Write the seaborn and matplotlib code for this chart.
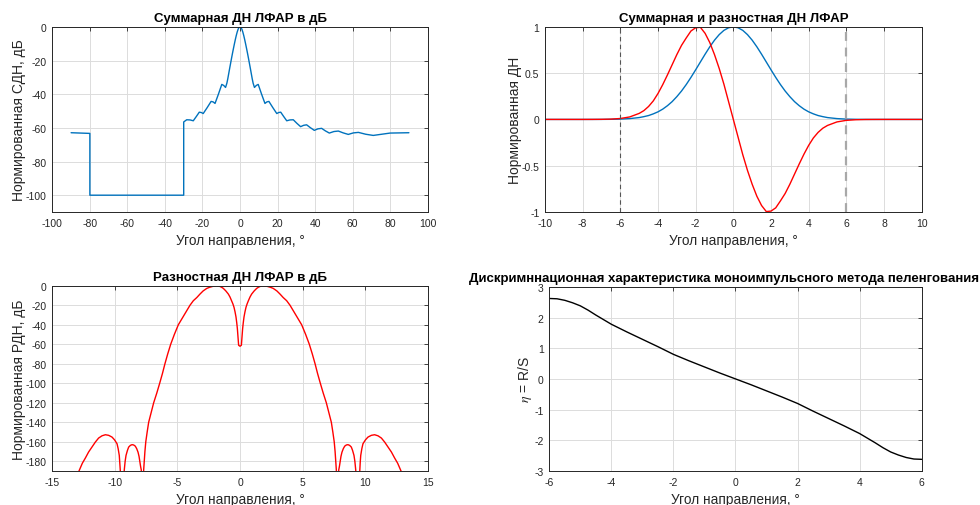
import numpy as np
import pandas as pd
import matplotlib
matplotlib.use('Agg')
import matplotlib.pyplot as plt
import seaborn as sns

# --- суммарная ДН в дБ (верхний левый) ---
sum_db_angle = [-90, -85, -80, -80, -30, -30, -28.4, -26.6, -24.9, -23.3, -21.7, -20.6, -19.6,
                -17.5, -15.4, -14.3, -13.3, -11.5, -9.7, -8.7, -7.7, -7.0, -6.5, -6.0, -5.5,
                -5.0, -4.5, -4.0, -3.5, -3.0, -2.5, -2.0, -1.5, -1.0, -0.5, 0.0,
                0.5, 1.0, 1.5, 2.0, 2.5, 3.0, 3.5, 4.0, 4.5, 5.0, 5.5, 6.0, 6.5, 7.0, 7.7,
                8.7, 9.7, 11.5, 13.3, 14.3, 15.4, 17.5, 19.6, 20.6, 21.7, 23.3, 24.9, 26.6,
                28.4, 30.3, 32.3, 33.9, 35.5, 37.5, 39.6, 41.5, 43.5, 45.5, 47.6, 50.0,
                52.4, 55.0, 57.7, 60.4, 63.1, 67.0, 71.0, 75.5, 80.0, 85.0, 90.0]
sum_db = [-62.9, -63.1, -63.3, -100, -100, -56.5, -55.2, -55.3, -55.8, -53.3, -50.7, -50.9, -51.5,
          -48.0, -44.3, -44.6, -45.5, -40.0, -34.2, -34.8, -36.0, -33.5, -30.8, -27.7, -24.6,
          -21.6, -18.6, -15.7, -12.9, -10.2, -7.6, -5.2, -3.1, -1.4, -0.35, 0.0,
          -0.35, -1.4, -3.1, -5.2, -7.6, -10.2, -12.9, -15.7, -18.6, -21.6, -24.6, -27.7, -30.8, -33.5, -36.0,
          -34.8, -34.2, -40.0, -45.5, -44.6, -44.3, -48.0, -51.5, -50.9, -50.7, -53.3, -55.8, -55.3,
          -55.2, -57.3, -59.3, -58.5, -58.2, -59.9, -61.5, -60.6, -60.3, -61.8, -63.1, -62.2,
          -61.9, -63.0, -63.9, -63.0, -62.7, -63.8, -64.5, -63.8, -63.1, -63.0, -62.9]

# --- суммарная и разностная ДН (верхний правый) ---
lin_angle = [-10, -9.5, -9, -8.5, -8, -7.5, -7, -6.5, -6, -5.5,
             -5, -4.75, -4.5, -4.25, -4, -3.75, -3.5, -3.25, -3, -2.75, -2.5, -2.25,
             -2, -1.75, -1.5, -1.25, -1, -0.75, -0.5, -0.25, 0,
             0.25, 0.5, 0.75, 1, 1.25, 1.5, 1.75, 2, 2.25, 2.5, 2.75, 3, 3.25, 3.5,
             3.75, 4, 4.25, 4.5, 4.75, 5,
             5.5, 6, 6.5, 7, 7.5, 8, 8.5, 9, 9.5, 10]
sum_lin = [0, 0, 0, 0, 0, 0.0001, 0.0004, 0.0013, 0.0036, 0.009,
           0.020, 0.030, 0.042, 0.060, 0.082, 0.111, 0.148, 0.192, 0.246, 0.307, 0.377, 0.454,
           0.536, 0.620, 0.704, 0.784, 0.856, 0.916, 0.962, 0.990, 1.0,
           0.990, 0.962, 0.916, 0.856, 0.784, 0.704, 0.620, 0.536, 0.454, 0.377, 0.307, 0.246, 0.192, 0.148,
           0.111, 0.082, 0.060, 0.042, 0.030, 0.020,
           0.009, 0.0036, 0.0013, 0.0004, 0.0001, 0, 0, 0, 0, 0]
diff_lin = [0, 0, 0, 0, 0, 0.0003, 0.001, 0.0035, 0.010, 0.027,
            0.065, 0.095, 0.14, 0.20, 0.28, 0.375, 0.48, 0.59, 0.70, 0.80, 0.88, 0.955,
            0.99, 0.995, 0.93, 0.83, 0.70, 0.55, 0.38, 0.19, 0.0,
            -0.19, -0.38, -0.55, -0.70, -0.83, -0.93, -0.995, -0.99, -0.955, -0.88, -0.80, -0.70, -0.59, -0.48,
            -0.375, -0.28, -0.20, -0.14, -0.095, -0.065,
            -0.027, -0.010, -0.0035, -0.001, -0.0003, 0, 0, 0, 0, 0]
zone_edges = [-6, 6]

# --- разностная ДН в дБ (нижний левый) ---
diff_db_angle = [-13.0, -12.87, -12.6, -12.36, -12.1, -11.83, -11.56, -11.3, -11.03, -10.76, -10.5,
                 -10.23, -10.03, -9.83, -9.74, -9.65, -9.61, -9.57, -9.41,
                 -9.25, -9.18, -9.11, -9.0, -8.9, -8.76, -8.63, -8.5, -8.37, -8.26, -8.15, -8.07,
                 -8.0, -7.95, -7.89, -7.8,
                 -7.7, -7.6, -7.53, -7.42, -7.3, -7.1, -6.9, -6.65, -6.42, -6.2, -6.0, -5.78,
                 -5.54, -5.25, -4.93, -4.47, -4.0, -3.73, -3.45, -3.2, -2.95, -2.66, -2.45,
                 -2.3, -2.1, -1.87,
                 -1.73, -1.6, -1.47, -1.33, -1.13, -0.93, -0.8, -0.67, -0.57, -0.48, -0.4,
                 -0.32, -0.26, -0.21, -0.16, -0.11, 0.0,
                 0.11, 0.16, 0.21, 0.26, 0.32, 0.4, 0.48, 0.57, 0.67, 0.8, 0.93, 1.13, 1.33,
                 1.47, 1.6, 1.73,
                 1.87, 2.1, 2.3, 2.45, 2.66, 2.95, 3.2, 3.45, 3.73, 4.0, 4.47, 4.93, 5.25,
                 5.54, 5.78, 6.0, 6.2, 6.42, 6.65, 6.9, 7.1, 7.3, 7.42, 7.53, 7.6, 7.7,
                 7.8, 7.89, 7.95, 8.0,
                 8.07, 8.15, 8.26, 8.37, 8.5, 8.63, 8.76, 8.9, 9.0, 9.11, 9.18, 9.25,
                 9.41, 9.57, 9.61, 9.65, 9.74, 9.83, 10.03, 10.23,
                 10.5, 10.76, 11.03, 11.3, 11.56, 11.83, 12.1, 12.36, 12.6, 12.87, 13.0]
diff_db = [-200, -190, -182, -176.7, -170.5, -165.5, -160.3, -156.2, -153.9, -152.8, -153.4,
           -155.2, -158, -162, -167, -174, -181, -189, -230,
           -189, -180, -174, -169, -165.5, -163.7, -163, -163.3, -164.5, -167, -170.7, -175,
           -181, -185, -189, -230,
           -189, -170, -160, -150, -140, -130, -120, -110, -100, -90, -80, -70,
           -60, -50, -40, -30, -20, -15.3, -12, -8.5, -5.3, -2.7, -1.6,
           -1.0, -0.3, 0.0,
           -0.2, -0.7, -1.5, -2.7, -5.3, -8.5, -11.5, -15.3, -18.5, -22, -26.5,
           -32, -38, -44, -52, -61, -62,
           -61, -52, -44, -38, -32, -26.5, -22, -18.5, -15.3, -11.5, -8.5, -5.3, -2.7,
           -1.5, -0.7, -0.2,
           0.0, -0.3, -1.0, -1.6, -2.7, -5.3, -8.5, -12, -15.3, -20, -30, -40, -50,
           -60, -70, -80, -90, -100, -110, -120, -130, -140, -150, -160, -170, -189,
           -230, -189, -185, -181,
           -175, -170.7, -167, -164.5, -163.3, -163, -163.7, -165.5, -169, -174, -180, -189,
           -230, -189, -181, -174, -167, -162, -158, -155.2,
           -153.4, -152.8, -153.9, -156.2, -160.3, -165.5, -170.5, -176.7, -182, -190, -200]

# --- дискриминационная характеристика (нижний правый) ---
eta_angle = [-6, -5.75, -5.5, -5.25, -5, -4.75, -4.5, -4.25, -4, -3.75, -3.5, -3.25, -3,
             -2.75, -2.5, -2.25, -2, -1.75, -1.5, -1.25, -1, -0.75, -0.5, -0.25, 0,
             0.25, 0.5, 0.75, 1, 1.25, 1.5, 1.75, 2, 2.25, 2.5, 2.75, 3, 3.25, 3.5,
             3.75, 4, 4.25, 4.5, 4.75, 5, 5.25, 5.5, 5.75, 6]
eta = [2.62, 2.61, 2.56, 2.48, 2.38, 2.24, 2.08, 1.93, 1.78, 1.655, 1.53, 1.41, 1.29,
       1.17, 1.05, 0.925, 0.80, 0.695, 0.59, 0.49, 0.39, 0.29, 0.19, 0.095, 0.0,
       -0.095, -0.19, -0.29, -0.39, -0.49, -0.59, -0.695, -0.80, -0.925, -1.05, -1.17, -1.29,
       -1.41, -1.53, -1.655, -1.78, -1.93, -2.08, -2.24, -2.38, -2.48, -2.56, -2.61, -2.62]

BLUE = '#0072BD'
RED = '#FF0000'
TXT = '#262626'

sns.set_theme(style='white')
plt.rcParams['font.family'] = ['Liberation Sans', 'DejaVu Sans']
plt.rcParams['mathtext.fontset'] = 'stix'
plt.rcParams['axes.unicode_minus'] = False

fig = plt.figure(figsize=(9.8, 5.06), dpi=100)
ax1 = fig.add_axes([0.0534, 0.579, 0.383, 0.366])
ax2 = fig.add_axes([0.5561, 0.579, 0.3844, 0.366])
ax3 = fig.add_axes([0.0534, 0.0672, 0.383, 0.366])
ax4 = fig.add_axes([0.5605, 0.0672, 0.380, 0.364])


def style(ax, title, ylabel, xlim, ylim, xticks, yticks, title_x=0.5):
    ax.set_xlim(xlim)
    ax.set_ylim(ylim)
    ax.set_xticks(xticks)
    ax.set_yticks(yticks)
    ax.set_title(title, fontsize=9.5, fontweight='bold', color='black', pad=4, x=title_x)
    ax.set_xlabel('Угол направления, °', fontsize=9.8, color=TXT, labelpad=4)
    ax.set_ylabel(ylabel, fontsize=10, color=TXT, labelpad=0)
    ax.grid(True, color='#dcdcdc', linewidth=0.7)
    ax.set_axisbelow(True)
    ax.tick_params(direction='in', top=True, right=True, length=3, width=0.6,
                   labelsize=7.5, colors=TXT, pad=4)
    for s in ax.spines.values():
        s.set_color(TXT)
        s.set_linewidth(0.7)


sns.lineplot(x=sum_db_angle, y=sum_db, ax=ax1, sort=False, estimator=None,
             color=BLUE, linewidth=1.0)
style(ax1, 'Суммарная ДН ЛФАР в дБ', 'Нормированная СДН, дБ',
      (-100, 100), (-110, 0), range(-100, 101, 20), range(-100, 1, 20))

sns.lineplot(x=lin_angle, y=sum_lin, ax=ax2, sort=False, estimator=None,
             color=BLUE, linewidth=1.0)
sns.lineplot(x=lin_angle, y=diff_lin, ax=ax2, sort=False, estimator=None,
             color=RED, linewidth=1.0)
ax2.axvline(zone_edges[0], color='#555555', linewidth=0.8, linestyle=(0, (4, 3)))
ax2.axvline(zone_edges[1], color='#a8a8a8', linewidth=1.6, linestyle=(0, (4, 3)))
style(ax2, 'Суммарная и разностная ДН ЛФАР', 'Нормированная ДН',
      (-10, 10), (-1, 1), range(-10, 11, 2), [-1, -0.5, 0, 0.5, 1])
ax2.set_yticklabels(['-1', '-0.5', '0', '0.5', '1'])

sns.lineplot(x=diff_db_angle, y=diff_db, ax=ax3, sort=False, estimator=None,
             color=RED, linewidth=1.0)
style(ax3, 'Разностная ДН ЛФАР в дБ', 'Нормированная РДН, дБ',
      (-15, 15), (-190, 0), range(-15, 16, 5), range(-180, 1, 20))

sns.lineplot(x=eta_angle, y=eta, ax=ax4, sort=False, estimator=None,
             color='black', linewidth=1.0)
style(ax4, 'Дискримннационная характеристика моноимпульсного метода пеленгования',
      r'$\eta$ = R/S', (-6, 6), (-3, 3), range(-6, 7, 2), range(-3, 4, 1), title_x=0.47)

fig.savefig('out.png', dpi=100)
